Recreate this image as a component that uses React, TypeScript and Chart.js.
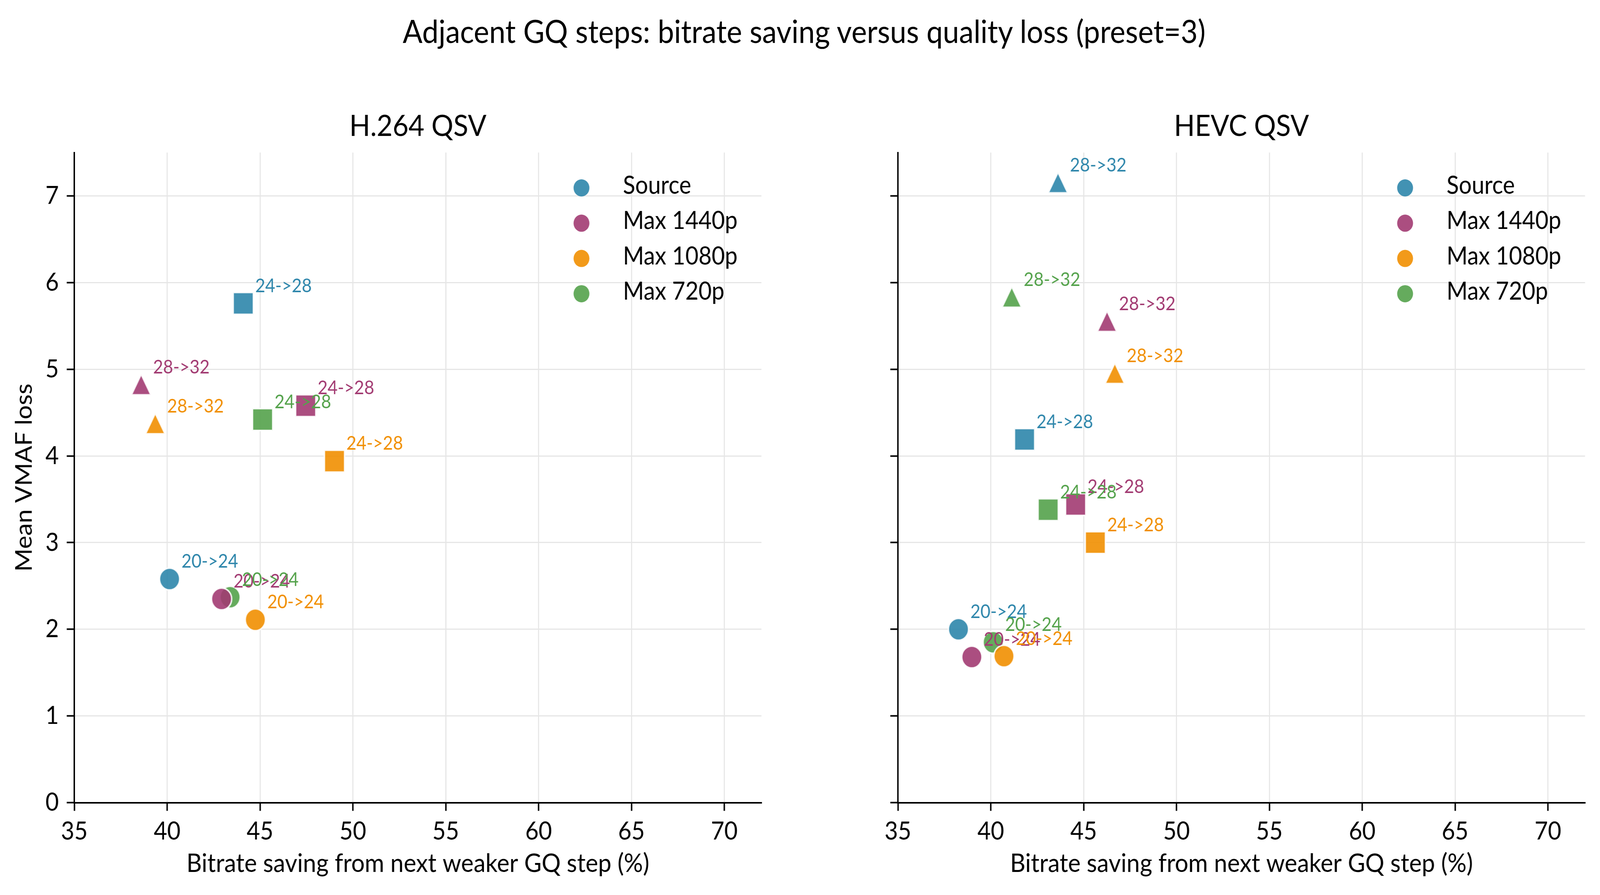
import React, { useEffect, useRef } from "react";
import { Chart, registerables } from "chart.js";

Chart.register(...registerables);

// ---------------- data ----------------
const SUPTITLE = "Adjacent GQ steps: bitrate saving versus quality loss (preset=3)";
const PANEL_TITLES = ["H.264 QSV", "HEVC QSV"];
const X_TITLE = "Bitrate saving from next weaker GQ step (%)";
const Y_TITLE = "Mean VMAF loss";

const SERIES = ["Source", "Max 1440p", "Max 1080p", "Max 720p"];
const COLORS = ["#2E86AB", "#A23B72", "#F18F01", "#54A24B"];
const STEPS = ["20->24", "24->28", "28->32"];
const SHAPES = ["circle", "square", "triangle"];

const X_MIN = 35;
const X_MAX = 72;
const X_STEP = 5;
const Y_MIN = 0;
const Y_MAX = 7.5;
const Y_STEP = 1;

// rows: series (Source, 1440p, 1080p, 720p); columns: steps (20->24, 24->28, 28->32)
const H264_SAVING = [
  [40.13, 44.1, null],
  [42.93, 47.46, 38.6],
  [44.75, 49.01, 39.36],
  [43.39, 45.14, null],
];
const H264_LOSS = [
  [2.58, 5.76, null],
  [2.35, 4.58, 4.82],
  [2.11, 3.94, 4.37],
  [2.37, 4.42, null],
];
const HEVC_SAVING = [
  [38.26, 41.82, 43.62],
  [38.98, 44.57, 46.26],
  [40.71, 45.63, 46.68],
  [40.13, 43.09, 41.13],
];
const HEVC_LOSS = [
  [2.0, 4.19, 7.15],
  [1.68, 3.44, 5.55],
  [1.69, 3.0, 4.95],
  [1.85, 3.38, 5.83],
];

// ---------------- helpers ----------------
const FONT = "Lato, 'Open Sans', sans-serif";
const W = 4437;
const H = 2291;

function makeMarker(shape: string, color: string): HTMLCanvasElement {
  const size = 64;
  const c = document.createElement("canvas");
  c.width = size;
  c.height = size;
  const g = c.getContext("2d")!;
  const m = size / 2;
  g.beginPath();
  if (shape === "circle") {
    g.arc(m, m, 28, 0, Math.PI * 2);
  } else if (shape === "square") {
    g.rect(m - 28, m - 28, 56, 56);
  } else {
    g.moveTo(m, m - 27);
    g.lineTo(m + 27, m + 25.5);
    g.lineTo(m - 27, m + 25.5);
    g.closePath();
  }
  g.globalAlpha = 0.9;
  g.fillStyle = color;
  g.fill();
  g.lineWidth = 4;
  g.lineJoin = "miter";
  g.strokeStyle = "#ffffff";
  g.stroke();
  return c;
}

function buildDatasets(saving: (number | null)[][], loss: (number | null)[][]) {
  const markers = COLORS.map((col) => SHAPES.map((s) => makeMarker(s, col)));
  return SERIES.map((name, i) => {
    const data: { x: number; y: number; step: number }[] = [];
    saving[i].forEach((xv, j) => {
      const yv = loss[i][j];
      if (xv !== null && yv !== null) data.push({ x: xv, y: yv, step: j });
    });
    return {
      label: name,
      data,
      backgroundColor: COLORS[i],
      borderColor: COLORS[i],
      pointRadius: 26,
      pointHoverRadius: 26,
      pointStyle: (ctx: any) => markers[i][ctx.raw ? ctx.raw.step : 0],
      showLine: false,
    };
  });
}

function makePlugin(title: string) {
  return {
    id: "panelDecor",
    afterDatasetsDraw(chart: any) {
      const ctx = chart.ctx;
      ctx.save();
      ctx.font = `48px ${FONT}`;
      ctx.textAlign = "left";
      ctx.textBaseline = "alphabetic";
      chart.data.datasets.forEach((ds: any, i: number) => {
        const meta = chart.getDatasetMeta(i);
        meta.data.forEach((el: any, j: number) => {
          const raw = ds.data[j];
          ctx.fillStyle = COLORS[i];
          ctx.fillText(STEPS[raw.step], el.x + 33, el.y - 29);
        });
      });
      ctx.restore();
    },
    afterDraw(chart: any) {
      const ctx = chart.ctx;
      const a = chart.chartArea;
      ctx.save();
      ctx.font = `76px ${FONT}`;
      ctx.fillStyle = "#000";
      ctx.textAlign = "center";
      ctx.textBaseline = "alphabetic";
      ctx.fillText(title, (a.left + a.right) / 2, 348);
      const mx = a.right - 499;
      const tx = a.right - 384;
      SERIES.forEach((name, k) => {
        const ry = a.top + 90.5 + k * 90.3;
        ctx.globalAlpha = 0.9;
        ctx.beginPath();
        ctx.arc(mx, ry, 22, 0, Math.PI * 2);
        ctx.fillStyle = COLORS[k];
        ctx.fill();
        ctx.globalAlpha = 1;
        ctx.font = `63px ${FONT}`;
        ctx.fillStyle = "#000";
        ctx.textAlign = "left";
        ctx.fillText(name, tx, ry + 15);
      });
      ctx.restore();
    },
  };
}

function makeConfig(
  title: string,
  saving: (number | null)[][],
  loss: (number | null)[][],
  showY: boolean,
  canvasW: number,
  plotLeft: number,
  plotRight: number
): any {
  return {
    type: "scatter",
    data: { datasets: buildDatasets(saving, loss) },
    plugins: [makePlugin(title)],
    options: {
      responsive: false,
      animation: false,
      events: [],
      devicePixelRatio: 1,
      layout: {
        padding: { left: 0, top: 390.5, right: canvasW - plotRight, bottom: 0 },
      },
      plugins: {
        legend: { display: false },
        tooltip: { enabled: false },
        title: { display: false },
      },
      scales: {
        x: {
          type: "linear",
          min: X_MIN,
          max: X_MAX,
          afterFit: (s: any) => {
            s.height = H - 2054.6;
          },
          ticks: {
            stepSize: X_STEP,
            includeBounds: false,
            color: "#000",
            font: { family: FONT, size: 64 },
            padding: 14,
            maxRotation: 0,
            autoSkip: false,
          },
          grid: {
            color: "#e6e6e6",
            lineWidth: 3,
            tickColor: "#000",
            tickWidth: 4,
            tickLength: 21,
            drawTicks: true,
          },
          border: { display: true, color: "#000", width: 4 },
          title: {
            display: true,
            text: X_TITLE,
            color: "#000",
            font: { family: FONT, size: 66 },
            padding: { top: 0, bottom: 41 },
          },
        },
        y: {
          type: "linear",
          min: Y_MIN,
          max: Y_MAX,
          afterFit: (s: any) => {
            s.width = plotLeft;
          },
          ticks: {
            stepSize: Y_STEP,
            includeBounds: false,
            display: showY,
            color: "#000",
            font: { family: FONT, size: 64 },
            padding: 22,
          },
          grid: {
            color: "#e6e6e6",
            lineWidth: 3,
            tickColor: "#000",
            tickWidth: 4,
            tickLength: 21,
            drawTicks: true,
          },
          border: { display: true, color: "#000", width: 4 },
          title: {
            display: showY,
            text: Y_TITLE,
            color: "#000",
            font: { family: FONT, size: 64 },
            padding: { top: 29, bottom: 0 },
          },
        },
      },
    },
  };
}

const LEFT_W = 2250;
const RIGHT_X = 2250;
const RIGHT_W = W - RIGHT_X;

export default function App() {
  const leftRef = useRef<HTMLCanvasElement | null>(null);
  const rightRef = useRef<HTMLCanvasElement | null>(null);

  const vw = typeof window !== "undefined" ? window.innerWidth : W;
  const vh = typeof window !== "undefined" ? window.innerHeight : H;
  const sx = Math.min(1, vw / W);
  const sy = Math.min(1, vh / H);

  useEffect(() => {
    Chart.defaults.font.family = FONT;
    const c1 = new Chart(
      leftRef.current!,
      makeConfig(PANEL_TITLES[0], H264_SAVING, H264_LOSS, true, LEFT_W, 206, 2111.5)
    );
    const c2 = new Chart(
      rightRef.current!,
      makeConfig(PANEL_TITLES[1], HEVC_SAVING, HEVC_LOSS, false, RIGHT_W, 2490 - RIGHT_X, 4395.5 - RIGHT_X)
    );
    return () => {
      c1.destroy();
      c2.destroy();
    };
  }, []);

  return (
    <div
      style={{
        position: "fixed",
        left: 0,
        top: 0,
        width: vw,
        height: vh,
        overflow: "hidden",
        background: "#fff",
      }}
    >
      <div
        style={{
          position: "absolute",
          left: 0,
          top: 0,
          width: W,
          height: H,
          background: "#fff",
          transform: `scale(${sx}, ${sy})`,
          transformOrigin: "0 0",
        }}
      >
        <div
          style={{
            position: "absolute",
            left: 0,
            top: 40,
            width: 4460,
            textAlign: "center",
            fontFamily: FONT,
            fontSize: 81,
            lineHeight: "78px",
            color: "#000",
            whiteSpace: "nowrap",
          }}
        >
          {SUPTITLE}
        </div>
        <canvas
          ref={leftRef}
          width={LEFT_W}
          height={H}
          style={{ position: "absolute", left: 0, top: 0, width: LEFT_W, height: H }}
        />
        <canvas
          ref={rightRef}
          width={RIGHT_W}
          height={H}
          style={{ position: "absolute", left: RIGHT_X, top: 0, width: RIGHT_W, height: H }}
        />
      </div>
    </div>
  );
}
